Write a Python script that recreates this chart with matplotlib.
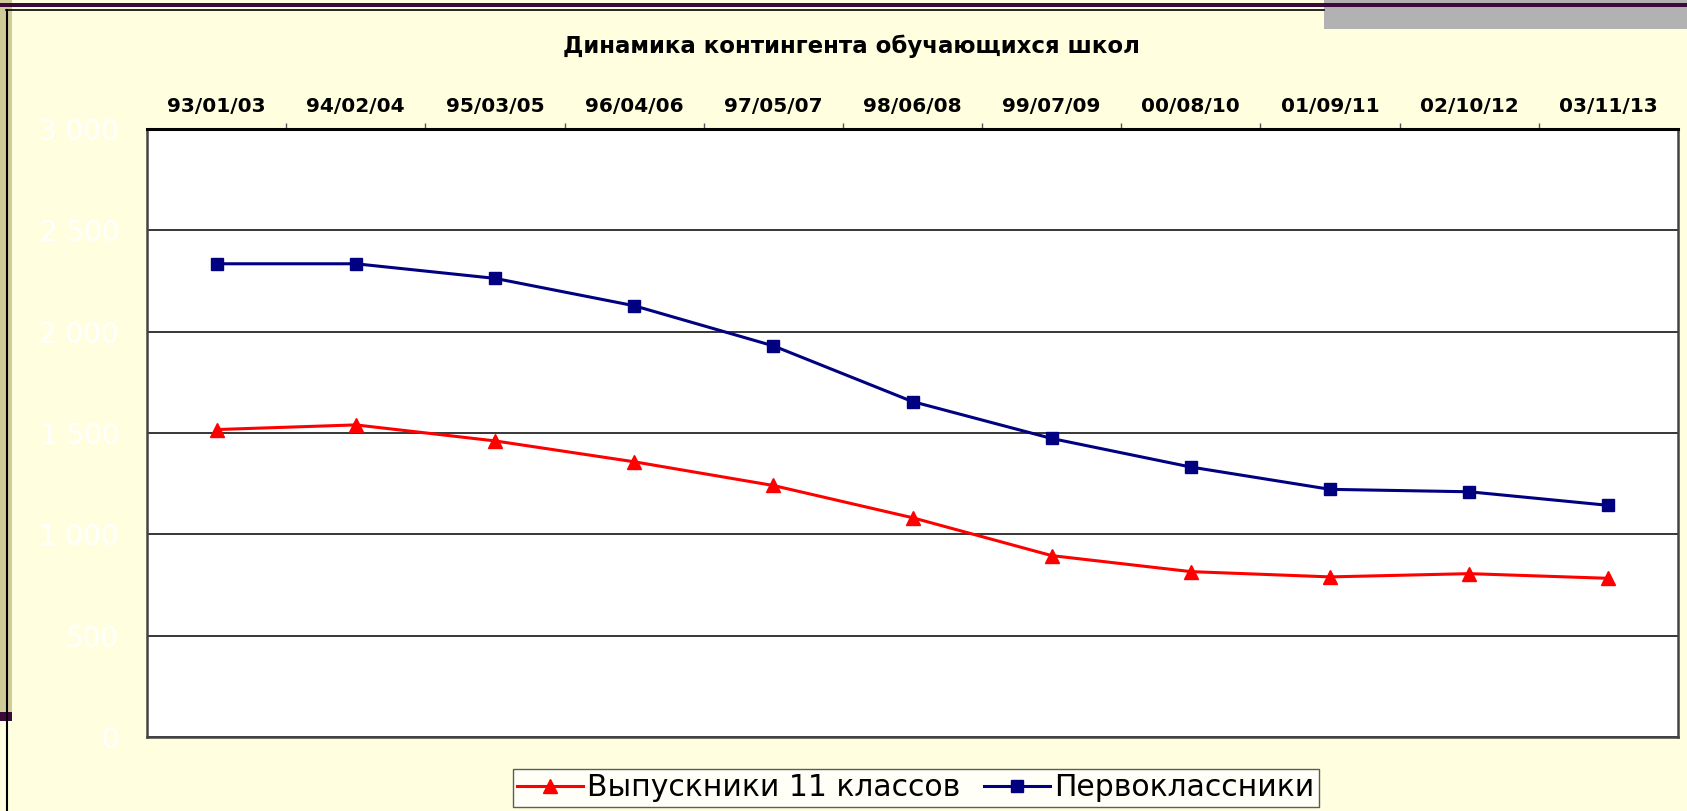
import matplotlib
matplotlib.use("Agg")
import matplotlib.pyplot as plt
from matplotlib.patches import Rectangle
from matplotlib.lines import Line2D
import numpy as np

plt.rcParams['font.family'] = ['DejaVu Sans']

# data
years = ['93/01/03', '94/02/04', '95/03/05', '96/04/06', '97/05/07', '98/06/08',
         '99/07/09', '00/08/10', '01/09/11', '02/10/12', '03/11/13']
graduates = [1517, 1540, 1461, 1358, 1241, 1082, 895, 816, 790, 806, 783]
first_graders = [2335, 2335, 2263, 2128, 1930, 1655, 1473, 1332, 1222, 1210, 1143]
yticks = [0, 500, 1000, 1500, 2000, 2500, 3000]
ytick_labels = ['0', '500', '1 000', '1 500', '2 000', '2 500', '3 000']

W, H = 1687, 811
bg = '#FFFFE0'

fig = plt.figure(figsize=(W / 100, H / 100), dpi=100, facecolor=bg)


def px_rect(x, y, w, h, color):
    # top-left pixel coords -> figure fraction
    fig.add_artist(Rectangle((x / W, 1 - (y + h) / H), w / W, h / H,
                             transform=fig.transFigure, facecolor=color,
                             edgecolor='none', zorder=0))


def px_line(x0, y0, x1, y1, color, lw):
    fig.add_artist(Line2D([x0 / W, x1 / W], [1 - y0 / H, 1 - y1 / H],
                          transform=fig.transFigure, color=color, lw=lw, zorder=1))


# slide decorations
px_rect(0, 0, 12, 712, '#CFCC9A')
px_rect(0, 712, 12, 9, '#3B0A3B')
px_rect(1324, 0, W - 1324, 29, '#B2B2B2')
px_rect(0, 3, W, 4, '#3B0A3B')
px_line(6, 10, 1324, 10, 'black', 1.2)
px_line(6.5, 10, 6.5, H, 'black', 1.5)

ax = fig.add_axes([147 / W, 1 - 737 / H, (1678 - 147) / W, (737 - 129) / H])
ax.set_facecolor('white')

x = np.arange(len(years))
ax.plot(x, graduates, color='#FF0000', lw=2.2, marker='^', markersize=10,
        label='Выпускники 11 классов', zorder=3)
ax.plot(x, first_graders, color='#000080', lw=2.2, marker='s', markersize=8,
        label='Первоклассники', zorder=3)

ax.set_xlim(-0.5, len(years) - 0.5)
ax.set_ylim(0, 3000)

ax.set_yticks(yticks)
ax.set_yticklabels(ytick_labels, color='white', fontsize=20)
ax.tick_params(axis='y', length=0, pad=20)
ax.yaxis.grid(True, color='black', lw=1.1)
ax.set_axisbelow(True)

ax.xaxis.tick_top()
ax.set_xticks(x)
ax.set_xticklabels(years, fontsize=14.5, fontweight='bold')
ax.tick_params(axis='x', which='major', length=0, pad=9)
ax.set_xticks(np.arange(0.5, len(years) - 0.5), minor=True)
ax.tick_params(axis='x', which='minor', top=True, bottom=False, length=4,
               color='#555555', width=1)

ax.spines['top'].set_linewidth(2.2)
ax.spines['top'].set_color('black')
for s in ['left', 'bottom', 'right']:
    ax.spines[s].set_color('#444444')
    ax.spines[s].set_linewidth(1.8)

fig.text(851 / W, 1 - 46 / H, 'Динамика контингента обучающихся школ',
         ha='center', va='center', fontsize=16.5, fontweight='bold')

leg = fig.legend(loc='center', bbox_to_anchor=(916 / W, 1 - 788 / H),
                 ncol=2, fontsize=21.5, frameon=True, fancybox=False,
                 edgecolor='#333333', handlelength=2.2, handletextpad=0.15,
                 columnspacing=0.8, borderpad=0.15, borderaxespad=0)
leg.get_frame().set_linewidth(1.0)
leg.get_frame().set_facecolor('white')

fig.savefig('out.png', dpi=100, facecolor=bg)
